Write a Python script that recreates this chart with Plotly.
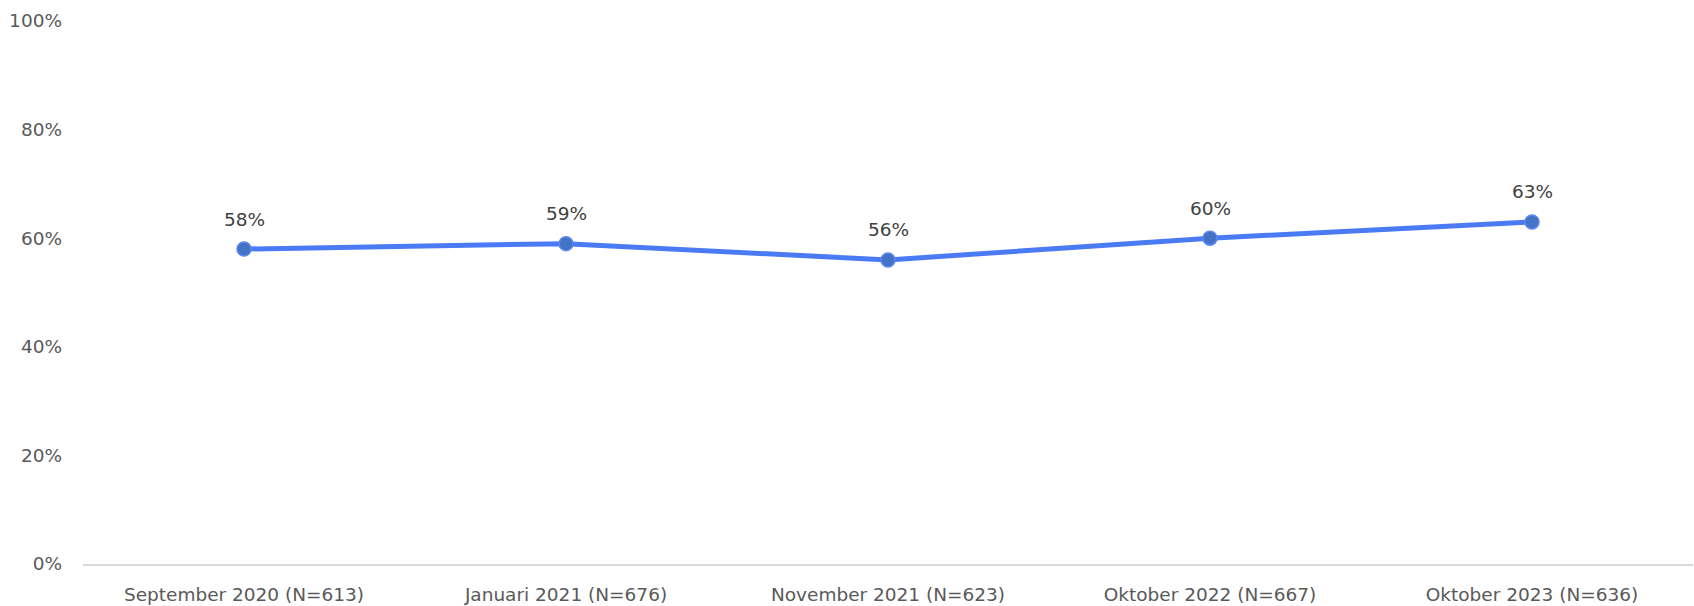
import plotly.graph_objects as go

# Survey waves and share of respondents (%)
waves = [
    "September 2020 (N=613)",
    "Januari 2021 (N=676)",
    "November 2021 (N=623)",
    "Oktober 2022 (N=667)",
    "Oktober 2023 (N=636)",
]
share = [58, 59, 56, 60, 63]
y_ticks = [0, 20, 40, 60, 80, 100]

font_family = "'DejaVu Sans', sans-serif"

fig = go.Figure()
fig.add_trace(
    go.Scatter(
        x=waves,
        y=share,
        mode="lines+markers",
        line=dict(color="#4A7AF4", width=5),
        marker=dict(size=14, color="#4472C4", line=dict(color="#5B87F2", width=1.5)),
        hoverinfo="skip",
    )
)

for w, v in zip(waves, share):
    fig.add_annotation(
        x=w, y=v, text=f"{v}%", showarrow=False, yshift=30,
        font=dict(family=font_family, size=18.5, color="#404040"),
    )

fig.update_layout(
    width=1694,
    height=606,
    margin=dict(l=83, r=1, t=21, b=42),
    paper_bgcolor="white",
    plot_bgcolor="white",
    showlegend=False,
    font=dict(family=font_family, size=18.5, color="#595959"),
)
fig.update_xaxes(
    type="category",
    range=[-0.5, len(waves) - 0.5],
    showgrid=False,
    showline=True,
    linecolor="#D9D9D9",
    linewidth=1.5,
    ticks="",
    ticklabelstandoff=13,
    tickfont=dict(size=18.5, color="#595959"),
    fixedrange=True,
)
fig.update_yaxes(
    range=[0, 100],
    tickvals=y_ticks,
    ticktext=[f"{t}%" for t in y_ticks],
    showgrid=False,
    zeroline=False,
    showline=False,
    ticks="",
    ticklabelstandoff=20,
    tickfont=dict(size=18.5, color="#595959"),
    fixedrange=True,
)

fig.write_html("out.html")
